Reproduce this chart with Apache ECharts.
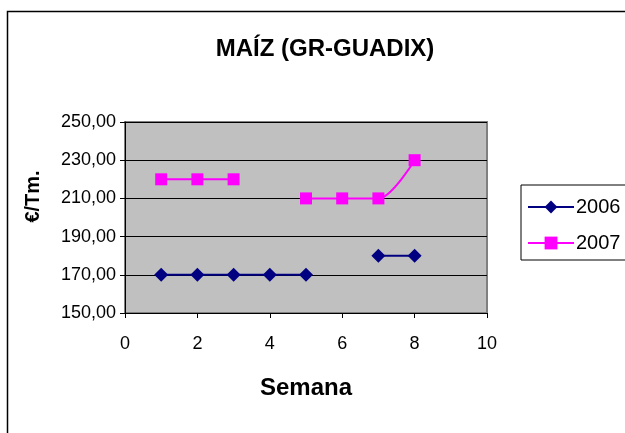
<!DOCTYPE html>
<html>
<head>
<meta charset="utf-8">
<script src="https://cdn.jsdelivr.net/npm/echarts@6/dist/echarts.min.js"></script>
<style>
  html, body { margin: 0; padding: 0; background: #fff; }
  #chart { width: 625px; height: 433px; }
</style>
</head>
<body>
<div id="chart"></div>
<script>
// datos
var semanas = [1, 2, 3, 4, 5, 6, 7, 8];
var precios2006 = [170, 170, 170, 170, 170, null, 180, 180];
var precios2007 = [220, 220, 220, null, 210, 210, 210, 230];

function pares(vals) {
  return semanas.map(function (s, i) {
    return [s, vals[i] == null ? '-' : vals[i]];
  });
}

var myChart = echarts.init(document.getElementById('chart'));
var font = 'Liberation Sans, Arial, sans-serif';

var option = {
  animation: false,
  backgroundColor: '#fff',
  graphic: [{
    type: 'rect',
    shape: { x: 7.5, y: 11.5, width: 640, height: 440 },
    style: { fill: 'none', stroke: '#000', lineWidth: 1.5 },
    z: -1
  }],
  title: {
    text: 'MAÍZ (GR-GUADIX)',
    left: 320,
    top: 32,
    textAlign: 'center',
    textStyle: { fontFamily: font, fontSize: 24, fontWeight: 'bold', color: '#000' }
  },
  legend: {
    orient: 'vertical',
    left: 521,
    top: 185,
    width: 110,
    padding: [12, 20, 7, 6],
    itemGap: 16,
    itemWidth: 46,
    itemHeight: 16,
    borderColor: '#000',
    borderWidth: 1,
    backgroundColor: '#fff',
    textStyle: { fontFamily: font, fontSize: 20, color: '#000', padding: [0, 0, 0, -3] },
    data: ['2006', '2007']
  },
  grid: { left: 125, right: 138, top: 122, bottom: 120, containLabel: false,
          show: true, backgroundColor: '#C0C0C0', borderColor: '#808080', borderWidth: 2 },
  xAxis: {
    type: 'value',
    min: 0, max: 10, interval: 2,
    name: 'Semana',
    nameLocation: 'middle',
    nameGap: 63,
    nameTextStyle: { fontFamily: font, fontSize: 24, fontWeight: 'bold', color: '#000' },
    axisLine: { show: true, lineStyle: { color: '#000', width: 1 } },
    axisTick: { show: true, length: 5, lineStyle: { color: '#000' } },
    axisLabel: { fontFamily: font, fontSize: 18, color: '#000', margin: 22 },
    splitLine: { show: false }
  },
  yAxis: {
    type: 'value',
    min: 150, max: 250, interval: 20,
    name: '€/Tm.',
    nameLocation: 'middle',
    nameGap: 82,
    nameRotate: 90,
    nameTextStyle: { fontFamily: font, fontSize: 20, fontWeight: 'bold', color: '#000', padding: [0, 0, 0, 42] },
    axisLine: { show: true, lineStyle: { color: '#000', width: 1 } },
    axisTick: { show: true, length: 5, lineStyle: { color: '#000' } },
    axisLabel: {
      fontFamily: font, fontSize: 18, color: '#000', margin: 9,
      formatter: function (v) { return v.toFixed(2).replace('.', ','); }
    },
    splitLine: { show: true, lineStyle: { color: '#000', width: 1 } }
  },
  series: [
    {
      name: '2006',
      type: 'line',
      data: pares(precios2006),
      symbol: 'diamond',
      symbolSize: 14,
      connectNulls: false,
      itemStyle: { color: '#000080' },
      lineStyle: { color: '#000080', width: 2 }
    },
    {
      name: '2007',
      type: 'line',
      data: pares(precios2007),
      symbol: 'rect',
      symbolSize: 12,
      smooth: 0.3,
      connectNulls: false,
      itemStyle: { color: '#FF00FF' },
      lineStyle: { color: '#FF00FF', width: 2 }
    }
  ]
};

myChart.setOption(option);
</script>
</body>
</html>
